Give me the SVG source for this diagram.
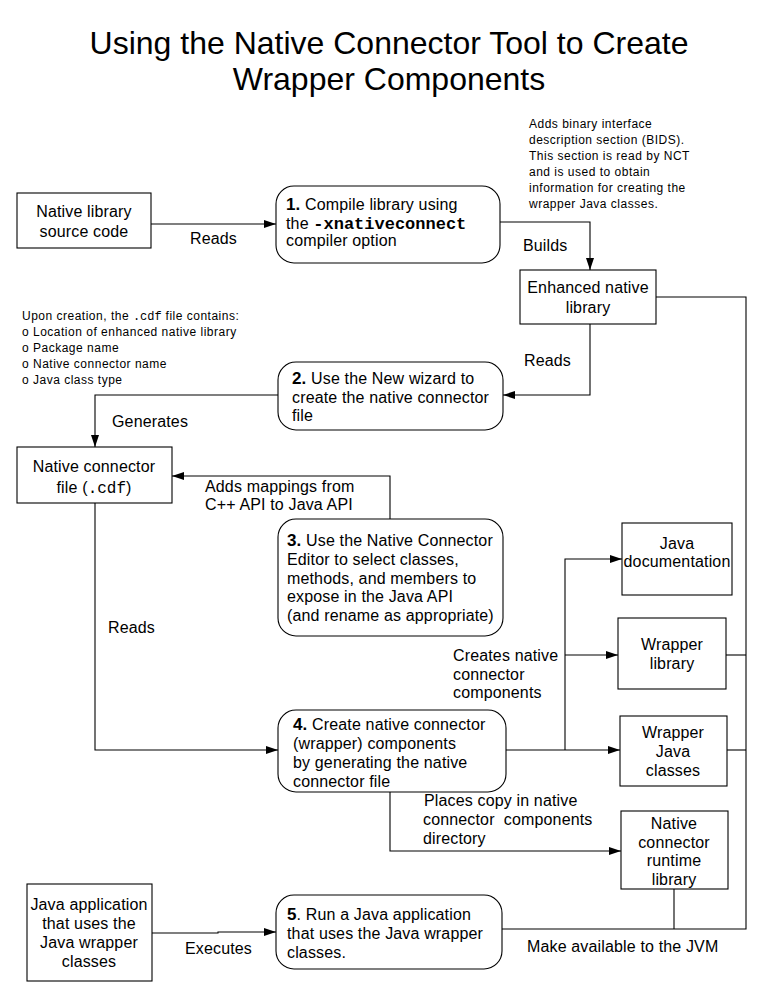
<svg xmlns="http://www.w3.org/2000/svg" width="767" height="1004" viewBox="0 0 767 1004">
<style>
text{font-family:"Liberation Sans",Arial,sans-serif;fill:#000}
.t{font-size:32px}
.n{font-size:16px;letter-spacing:0.15px}
.c{text-anchor:middle}
.s{font-size:12px;letter-spacing:0.5px}
.m{font-family:"Liberation Mono","Courier New",monospace;letter-spacing:0}
.b{font-weight:bold}
.box{fill:#fff;stroke:#000;stroke-width:1.1}
.ln{fill:none;stroke:#000;stroke-width:1.1}
</style>
<defs>
<marker id="ar" viewBox="0 0 12 8" refX="12" refY="4" markerWidth="12" markerHeight="8" markerUnits="userSpaceOnUse" orient="auto">
<path d="M0,0 L12,4 L0,8 Z" fill="#000"/>
</marker>
</defs>
<rect width="767" height="1004" fill="#fff"/>
<g id="title">
<text class="t c" x="389" y="54">Using the Native Connector Tool to Create</text>
<text class="t c" x="389" y="90">Wrapper Components</text>
</g>
<g id="connectors">
<path class="ln" d="M151,224 H276" marker-end="url(#ar)"/>
<path class="ln" d="M500,222 H590 V270" marker-end="url(#ar)"/>
<path class="ln" d="M656,297 H746 V929 H502"/>
<path class="ln" d="M590,324 V395 H503" marker-end="url(#ar)"/>
<path class="ln" d="M278,395 H95 V447" marker-end="url(#ar)"/>
<path class="ln" d="M390,519 V476 H172" marker-end="url(#ar)"/>
<path class="ln" d="M95,503 V750 H278" marker-end="url(#ar)"/>
<path class="ln" d="M506,750 H620" marker-end="url(#ar)"/>
<path class="ln" d="M565,750 V559 H622" marker-end="url(#ar)"/>
<path class="ln" d="M565,655 H618" marker-end="url(#ar)"/>
<path class="ln" d="M390,792 V851 H621" marker-end="url(#ar)"/>
<path class="ln" d="M726,655 H746"/>
<path class="ln" d="M727,750 H746"/>
<path class="ln" d="M674,889 V929"/>
<path class="ln" d="M152,933 H218 V932 H276" marker-end="url(#ar)"/>
</g>
<g id="labels">
<text class="n" x="190" y="244">Reads</text>
<text class="n" x="523" y="251">Builds</text>
<text class="n" x="524" y="366">Reads</text>
<text class="n" x="112" y="427">Generates</text>
<text class="n" x="205" y="492">Adds mappings from</text>
<text class="n" x="205" y="510">C++ API to Java API</text>
<text class="n" x="108" y="633">Reads</text>
<text class="n" x="453" y="661">Creates native</text>
<text class="n" x="453" y="680">connector</text>
<text class="n" x="453" y="698">components</text>
<text class="n" x="424" y="806">Places copy in native</text>
<text class="n" x="423" y="825" xml:space="preserve">connector  components</text>
<text class="n" x="423" y="844">directory</text>
<text class="n" x="185" y="954">Executes</text>
<text class="n" x="527" y="952">Make available to the JVM</text>
</g>
<g id="note-bids">
<text class="s" x="529" y="128">Adds binary interface</text>
<text class="s" x="529" y="144">description section (BIDS).</text>
<text class="s" x="529" y="160">This section is read by NCT</text>
<text class="s" x="529" y="176">and is used to obtain</text>
<text class="s" x="529" y="192">information for creating the</text>
<text class="s" x="529" y="208">wrapper Java classes.</text>
</g>
<g id="note-cdf">
<text class="s" x="22" y="320">Upon creation, the <tspan class="m">.cdf</tspan> file contains:</text>
<text class="s" x="22" y="336">o Location of enhanced native library</text>
<text class="s" x="22" y="352">o Package name</text>
<text class="s" x="22" y="368">o Native connector name</text>
<text class="s" x="22" y="384">o Java class type</text>
</g>
<g id="native-source">
<rect class="box" x="17" y="193" width="134" height="55"/>
<text class="n c" x="84" y="217">Native library</text>
<text class="n c" x="84" y="237">source code</text>
</g>
<g id="step1">
<rect class="box" x="276" y="186" width="224" height="77" rx="18"/>
<text class="n" x="286" y="210"><tspan class="b" font-size="17">1.</tspan> Compile library using</text>
<text class="n" x="286" y="229">the <tspan class="m b" font-size="17">-xnativeconnect</tspan></text>
<text class="n" x="286" y="246">compiler option</text>
</g>
<g id="enhanced-lib">
<rect class="box" x="520" y="270" width="136" height="54"/>
<text class="n c" x="588" y="293">Enhanced native</text>
<text class="n c" x="588" y="313">library</text>
</g>
<g id="step2">
<rect class="box" x="278" y="362" width="225" height="68" rx="18"/>
<text class="n" x="292" y="384"><tspan class="b" font-size="17">2.</tspan> Use the New wizard to</text>
<text class="n" x="292" y="403">create the native connector</text>
<text class="n" x="292" y="421">file</text>
</g>
<g id="cdf-file">
<rect class="box" x="17" y="447" width="155" height="56"/>
<text class="n c" x="94" y="472">Native connector</text>
<text class="n c" x="94" y="493">file (<tspan class="m">.cdf</tspan>)</text>
</g>
<g id="step3">
<rect class="box" x="278" y="519" width="225" height="117" rx="18"/>
<text class="n" x="287" y="546"><tspan class="b" font-size="17">3.</tspan> Use the Native Connector</text>
<text class="n" x="287" y="565">Editor to select classes,</text>
<text class="n" x="287" y="584">methods, and members to</text>
<text class="n" x="287" y="602">expose in the Java API</text>
<text class="n" x="287" y="621">(and rename as appropriate)</text>
</g>
<g id="step4">
<rect class="box" x="278" y="710" width="228" height="82" rx="18"/>
<text class="n" x="293" y="730"><tspan class="b" font-size="17">4.</tspan> Create native connector</text>
<text class="n" x="293" y="749">(wrapper) components</text>
<text class="n" x="293" y="768">by generating the native</text>
<text class="n" x="293" y="787">connector file</text>
</g>
<g id="java-doc">
<rect class="box" x="622" y="523" width="110" height="72"/>
<text class="n c" x="677" y="549">Java</text>
<text class="n c" x="677" y="567">documentation</text>
</g>
<g id="wrapper-lib">
<rect class="box" x="618" y="618" width="108" height="71"/>
<text class="n c" x="672" y="650">Wrapper</text>
<text class="n c" x="672" y="669">library</text>
</g>
<g id="wrapper-java">
<rect class="box" x="620" y="716" width="107" height="70"/>
<text class="n c" x="673" y="738">Wrapper</text>
<text class="n c" x="673" y="757">Java</text>
<text class="n c" x="673" y="776">classes</text>
</g>
<g id="runtime-lib">
<rect class="box" x="621" y="811" width="107" height="78"/>
<text class="n c" x="674" y="829">Native</text>
<text class="n c" x="674" y="848">connector</text>
<text class="n c" x="674" y="866">runtime</text>
<text class="n c" x="674" y="885">library</text>
</g>
<g id="java-app">
<rect class="box" x="27" y="884" width="125" height="97"/>
<text class="n c" x="89" y="910">Java application</text>
<text class="n c" x="89" y="929">that uses the</text>
<text class="n c" x="89" y="948">Java wrapper</text>
<text class="n c" x="89" y="967">classes</text>
</g>
<g id="step5">
<rect class="box" x="276" y="895" width="226" height="74" rx="18"/>
<text class="n" x="287" y="920"><tspan class="b" font-size="17">5</tspan>. Run a Java application</text>
<text class="n" x="287" y="939">that uses the Java wrapper</text>
<text class="n" x="287" y="958">classes.</text>
</g>
</svg>
